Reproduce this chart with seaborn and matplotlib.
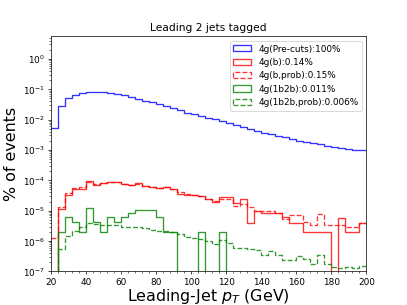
import numpy as np
import pandas as pd
import matplotlib
matplotlib.use("Agg")
import matplotlib.pyplot as plt
from matplotlib.patches import Patch
from matplotlib.ticker import MultipleLocator
import seaborn as sns

# bin edges in GeV (4 GeV bins from 20 to 200)
edges = np.arange(20, 204, 4)
centers = edges[:-1] + 2

pre_cuts = [0.0054, 0.029, 0.051, 0.066, 0.077, 0.082, 0.083, 0.080, 0.075, 0.068,
            0.063, 0.056, 0.048, 0.042, 0.037, 0.032, 0.028, 0.0235, 0.020, 0.017,
            0.0147, 0.0128, 0.0116, 0.0104, 0.0090, 0.0075, 0.0064, 0.0058, 0.0050, 0.0043,
            0.0036, 0.0033, 0.0028, 0.0026, 0.00225, 0.0020, 0.0018, 0.0017, 0.00153, 0.00139,
            0.00125, 0.00119, 0.00107, 0.00102, 0.00097]

b_tag = [0, 1.1e-5, 3.4e-5, 5.0e-5, 5.2e-5, 9.6e-5, 6.8e-5, 8.4e-5, 8.6e-5, 8.8e-5,
         7.4e-5, 6.8e-5, 8.0e-5, 6.4e-5, 6.0e-5, 5.7e-5, 6.0e-5, 5.0e-5, 3.6e-5, 3.4e-5,
         3.3e-5, 3.0e-5, 2.5e-5, 2.0e-5, 2.85e-5, 2.85e-5, 1.85e-5, 2.4e-5, 4.0e-6, 9.8e-6,
         8.2e-6, 8.2e-6, 8.2e-6, 6.0e-6, 4.0e-6, 4.0e-6, 2.0e-6, 2.0e-6, 2.0e-6, 2.0e-6,
         0, 5.9e-6, 2.0e-6, 2.0e-6, 4.0e-6]

b_prob = [1.3e-6, 1.3e-5, 3.7e-5, 5.4e-5, 6.0e-5, 9.0e-5, 7.8e-5, 8.4e-5, 8.6e-5, 8.6e-5,
          7.4e-5, 6.8e-5, 7.6e-5, 6.6e-5, 6.2e-5, 5.6e-5, 6.0e-5, 5.0e-5, 4.2e-5, 3.5e-5,
          3.3e-5, 3.1e-5, 2.5e-5, 2.1e-5, 2.4e-5, 2.4e-5, 1.4e-5, 1.6e-5, 1.3e-5, 9.8e-6,
          9.5e-6, 9.5e-6, 8.2e-6, 5.5e-6, 7.0e-6, 7.0e-6, 4.3e-6, 3.5e-6, 7.8e-6, 3.3e-6,
          3.3e-6, 3.3e-6, 2.8e-6, 2.8e-6, 4.0e-6]

b1b2 = [0, 2.05e-6, 6.2e-6, 4.1e-6, 2.05e-6, 1.23e-5, 4.1e-6, 2.05e-6, 6.2e-6, 4.1e-6,
        6.2e-6, 8.2e-6, 1.03e-5, 1.03e-5, 1.03e-5, 6.2e-6, 2.05e-6, 2.05e-6, 0, 0,
        0, 2.05e-6, 0, 0, 2.05e-6, 0, 0, 0, 0, 0,
        0, 0, 0, 0, 0, 0, 0, 0, 0, 0,
        0, 0, 0, 0, 0]

b1b2_prob = [0, 5.6e-7, 1.45e-6, 2.2e-6, 3.0e-6, 3.8e-6, 3.7e-6, 3.5e-6, 3.3e-6, 3.3e-6,
             3.0e-6, 2.8e-6, 3.0e-6, 2.7e-6, 2.4e-6, 2.2e-6, 2.1e-6, 2.0e-6, 1.7e-6, 1.35e-6,
             1.3e-6, 1.15e-6, 1.0e-6, 7.8e-7, 1.05e-6, 8.6e-7, 6.0e-7, 6.0e-7, 5.5e-7, 4.9e-7,
             3.4e-7, 4.8e-7, 3.4e-7, 2.3e-7, 2.3e-7, 3.2e-7, 2.5e-7, 1.75e-7, 3.6e-7, 1.7e-7,
             1.4e-7, 1.25e-7, 1.35e-7, 1.25e-7, 1.5e-7]

labels = ["4g(Pre-cuts):100%", "4g(b):0.14%", "4g(b,prob):0.15%",
          "4g(1b2b):0.011%", "4g(1b2b,prob):0.006%"]

series = [(pre_cuts, "blue", "-"), (b_tag, "red", "-"), (b_prob, "red", "--"),
          (b1b2, "green", "-"), (b1b2_prob, "green", "--")]

fig, ax = plt.subplots(figsize=(6.4, 4.8), dpi=63.6)

handles = []
for (vals, col, ls), lab in zip(series, labels):
    df = pd.DataFrame({"pt": centers, "w": vals})
    sns.histplot(data=df, x="pt", weights="w", binwidth=4, binrange=(20, 200),
                 element="step", fill=False, color=col, linestyle=ls,
                 linewidth=1.5, alpha=0.8, ax=ax)
    handles.append(Patch(fill=False, edgecolor=col, linestyle=ls, linewidth=1.5,
                         alpha=0.8, label=lab))

ax.set_yscale("log")
ax.set_ylim(1e-7, 5.5)
ax.set_xlim(20, 200)
ax.xaxis.set_major_locator(MultipleLocator(20))
ax.xaxis.set_minor_locator(MultipleLocator(4))
ax.set_title("Leading 2 jets tagged")
ax.set_xlabel("Leading-Jet $p_T$ (GeV)", fontsize=18, labelpad=0.5)
ax.set_ylabel("% of events", fontsize=18)
ax.legend(handles=handles, loc="upper right")

fig.savefig("out.png", dpi=63.6)
